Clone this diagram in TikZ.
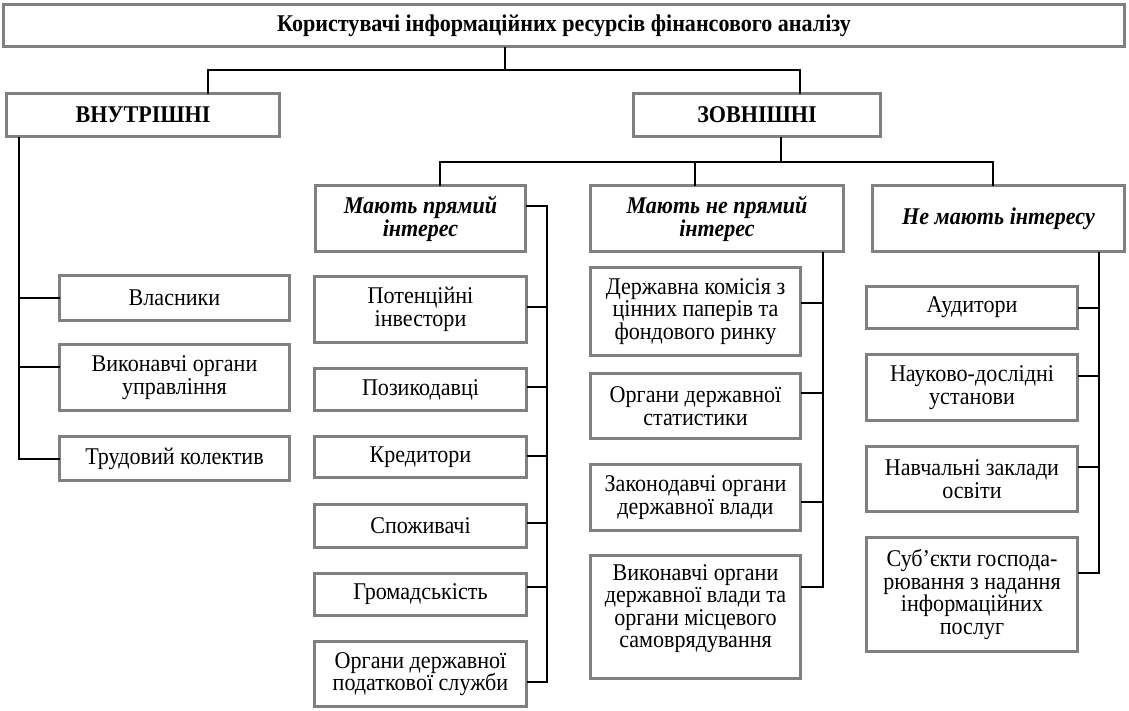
\documentclass[tikz,border=0pt]{standalone}
\usepackage{fontspec}
\setmainfont{Liberation Serif}[FakeStretch=0.92]
\definecolor{boxgray}{HTML}{808080}
\begin{document}
\begin{tikzpicture}[x=1pt,y=-1pt,
  box/.style={draw=boxgray, line width=3.5pt, fill=white, inner sep=2pt, outer sep=0pt, align=center, font=\fontsize{24}{22.6}\selectfont},
  hdr/.style={box, font=\fontsize{24}{23}\selectfont\bfseries},
  hdri/.style={box, font=\fontsize{24}{23}\selectfont\bfseries\itshape},
  link/.style={draw=black, line width=2pt}]
\useasboundingbox[fill=white] (0,0) rectangle (1129,710);

% top level
\node[hdr, minimum width=1121pt, minimum height=42pt] (title) at (564,25.5) {Користувачі інформаційних ресурсів фінансового аналізу};
\node[hdr, minimum width=273pt, minimum height=43pt] (vn) at (143,115) {ВНУТРІШНІ};
\node[hdr, minimum width=247pt, minimum height=43pt] (zv) at (757,115) {ЗОВНІШНІ};

\node[hdri, minimum width=210pt, minimum height=66pt] (p) at (420.5,218.5) {Мають прямий\\інтерес};
\node[hdri, minimum width=253pt, minimum height=66pt] (np) at (717,218.5) {Мають не прямий\\інтерес};
\node[hdri, minimum width=252pt, minimum height=66pt] (ni) at (998.5,218.5) {Не мають інтересу};

% internal
\node[box, minimum width=230pt, minimum height=45pt] (vl) at (174.5,298) {Власники};
\node[box, minimum width=230pt, minimum height=66pt] (vu) at (174.5,377.5) {Виконавчі органи\\управління};
\node[box, minimum width=230pt, minimum height=44pt] (tk) at (174.5,458.5) {Трудовий колектив};

% direct interest
\node[box, minimum width=212pt, minimum height=66pt] (pi) at (420.5,309.5) {Потенційні\\інвестори};
\node[box, minimum width=212pt, minimum height=42pt] (pz) at (420.5,389.5) {Позикодавці};
\node[box, minimum width=212pt, minimum height=41pt] (kr) at (420.5,457) {Кредитори};
\node[box, minimum width=212pt, minimum height=43pt] (sp) at (420.5,526) {Споживачі};
\node[box, minimum width=212pt, minimum height=42pt] (gr) at (420.5,594.5) {Громадськість};
\node[box, minimum width=212pt, minimum height=65pt] (ps) at (420.5,674) {Органи державної\\податкової служби};

% indirect interest
\node[box, minimum width=210pt, minimum height=88pt] (dk) at (695.5,311.5) {Державна комісія з\\цінних паперів та\\фондового ринку};
\node[box, minimum width=210pt, minimum height=65pt] (os) at (695.5,406) {Органи державної\\статистики};
\node[box, minimum width=210pt, minimum height=66pt] (zo) at (695.5,497.5) {Законодавчі органи\\державної влади};
\node[box, minimum width=210pt, minimum height=123pt, text depth=22pt] (vo) at (695.5,617) {Виконавчі органи\\державної влади та\\органи місцевого\\самоврядування};

% no interest
\node[box, minimum width=211pt, minimum height=42pt] (au) at (972,307.5) {Аудитори};
\node[box, minimum width=211pt, minimum height=66pt] (nd) at (972,387.5) {Науково-дослідні\\установи};
\node[box, minimum width=211pt, minimum height=65pt] (nz) at (972,479) {Навчальні заклади\\освіти};
\node[box, minimum width=211pt, minimum height=114pt] (sg) at (972,594.5) {Суб’єкти господа-\\рювання з надання\\інформаційних\\послуг};

% junctions and trunks
\coordinate (j1) at (505,70);
\coordinate (j2) at (781,162);
\coordinate (tl) at (18.5,0);
\coordinate (tp) at (547,0);
\coordinate (tnp) at (823,0);
\coordinate (tni) at (1099,0);

\draw[link] (title.south -| j1) -- (j1);
\draw[link] ([xshift=65pt]vn.north) |- (j1) -| ([xshift=43pt]zv.north);
\draw[link] (zv.south -| j2) -- (j2);
\draw[link] ([xshift=19.5pt]p.north) |- (j2) -| ([xshift=-5.5pt]ni.north);
\draw[link] ([xshift=-22pt]np.north) -- ([xshift=-22pt]np.north |- j2);

% internal
\draw[link] (vn.south -| tl) |- (tk.west);
\draw[link] (vl.west) -- (vl.west -| tl);
\draw[link] ([yshift=10.5pt]vu.west) -- ([yshift=10.5pt]vu.west -| tl);

% direct
\draw[link] ([yshift=12.5pt]p.east) -| ([yshift=-8pt]ps.east -| tp) -- ([yshift=-8pt]ps.east);
\draw[link] ([yshift=2.5pt]pi.east) -- ([yshift=2.5pt]pi.east -| tp);
\draw[link] ([yshift=2.5pt]pz.east) -- ([yshift=2.5pt]pz.east -| tp);
\draw[link] ([yshift=1pt]kr.east) -- ([yshift=1pt]kr.east -| tp);
\draw[link] ([yshift=3pt]sp.east) -- ([yshift=3pt]sp.east -| tp);
\draw[link] ([yshift=7.5pt]gr.east) -- ([yshift=7.5pt]gr.east -| tp);

% indirect
\draw[link] (np.south -| tnp) -- ([yshift=30pt]vo.east -| tnp) -- ([yshift=30pt]vo.east);
\draw[link] ([yshift=8.5pt]dk.east) -- ([yshift=8.5pt]dk.east -| tnp);
\draw[link] ([yshift=13pt]os.east) -- ([yshift=13pt]os.east -| tnp);
\draw[link] ([yshift=-4.5pt]zo.east) -- ([yshift=-4.5pt]zo.east -| tnp);

% none
\draw[link] (ni.south -| tni) -- ([yshift=21.5pt]sg.east -| tni) -- ([yshift=21.5pt]sg.east);
\draw[link] (au.east) -- (au.east -| tni);
\draw[link] ([yshift=11.5pt]nd.east) -- ([yshift=11.5pt]nd.east -| tni);
\draw[link] ([yshift=12pt]nz.east) -- ([yshift=12pt]nz.east -| tni);
\end{tikzpicture}
\end{document}
